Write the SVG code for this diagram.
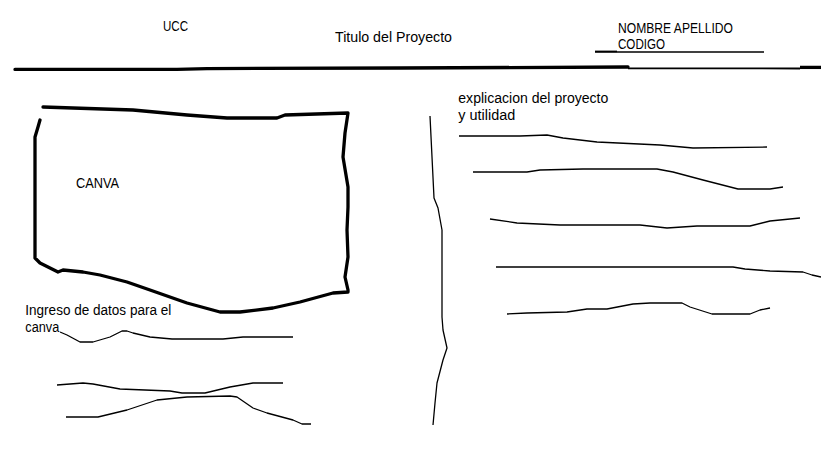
<svg xmlns="http://www.w3.org/2000/svg" width="821" height="460" viewBox="0 0 821 460">
<style>
text{font-family:"Liberation Sans",Arial,sans-serif;font-size:14px;fill:#000}
.thick{fill:none;stroke:#000;stroke-width:3.3;stroke-linejoin:round;stroke-linecap:round}
.thin{fill:none;stroke:#000;stroke-width:1.3;stroke-linejoin:round}
</style>
<rect width="821" height="460" fill="#fff"/>
<g id="header">
<text x="163" y="30.7" textLength="25" lengthAdjust="spacingAndGlyphs">UCC</text>
<text x="335" y="42.3" textLength="117" lengthAdjust="spacingAndGlyphs">Titulo del Proyecto</text>
<text x="618" y="32.7" textLength="115" lengthAdjust="spacingAndGlyphs">NOMBRE APELLIDO</text>
<text x="618" y="49.3" textLength="47" lengthAdjust="spacingAndGlyphs">CODIGO</text>
<path class="thin" d="M617 52 L764 52"/>
<path d="M595 51.7 L617 51.7" stroke="#000" stroke-width="2.2" fill="none"/>
<path class="thick" d="M15 69.4 L177 69.3 L207 68.6 L400 68 L628 67"/>
<path d="M628 68.3 L800 68.5" stroke="#000" stroke-width="1.8" fill="none"/>
<path d="M800 67.4 L821 67.4" stroke="#000" stroke-width="3.3" fill="none"/>
</g>
<g id="canva">
<path class="thick" d="M43 107 L133 110 L187 115 L227 118 L277 118 L285 115 L348 113 L345 133 L343 157 L348 187 L348 207 L347 230 L348 257 L345 277 L348 290 L348 292 L333 293 L300 302 L273 308 L240 312 L220 312 L187 303 L150 290 L127 282 L100 275 L83 272 L63 270 L58 272 L40 263 L35 258 L35 233 L35 137 L38 127 L40 120"/>
<text x="76" y="188" textLength="43" lengthAdjust="spacingAndGlyphs">CANVA</text>
</g>
<g id="ingreso">
<text x="25.3" y="315" textLength="146" lengthAdjust="spacingAndGlyphs">Ingreso de datos para el</text>
<text x="25.3" y="332" textLength="34" lengthAdjust="spacingAndGlyphs">canva</text>
<path class="thin" d="M60 332 L67 335 L80 342 L93 342 L110 337 L122 331 L127 331 L133 333 L150 337 L172 339 L223 339 L243 337 L293 337"/>
<path class="thin" d="M57 385 L83 383 L93 384 L120 389 L170 391 L182 393 L205 393 L230 387 L253 383 L283 383"/>
<path class="thin" d="M66 417 L98 417 L127 410 L157 400 L187 397 L230 396 L237 397 L253 408 L267 413 L293 420 L302 424 L311 424"/>
</g>
<g id="divider">
<path class="thin" d="M430 116 L432 157 L434 198 L438 208 L442 230 L442 317 L443 330 L447 348 L443 360 L437 383 L435 403 L433 425"/>
</g>
<g id="explicacion">
<text x="458.3" y="102.7" textLength="150" lengthAdjust="spacingAndGlyphs">explicacion del proyecto</text>
<text x="458.3" y="120" textLength="57" lengthAdjust="spacingAndGlyphs">y utilidad</text>
<path class="thin" d="M459 136 L520 136 L547 135 L563 138 L597 142 L660 145 L693 148 L767 147"/>
<path class="thin" d="M473 172 L527 172 L540 170 L583 169 L657 169 L673 172 L703 180 L738 189 L770 189 L783 187"/>
<path class="thin" d="M490 219 L517 223 L560 225 L640 225 L667 228 L697 226 L750 226 L770 221 L800 218"/>
<path class="thin" d="M496 267 L733 267 L745 269 L770 271 L803 272 L812 275 L821 277"/>
<path class="thin" d="M507 314 L527 313 L567 312 L587 309 L607 309 L633 304 L650 303 L682 303 L690 307 L712 314 L750 314 L760 310 L770 308"/>
</g>
</svg>
